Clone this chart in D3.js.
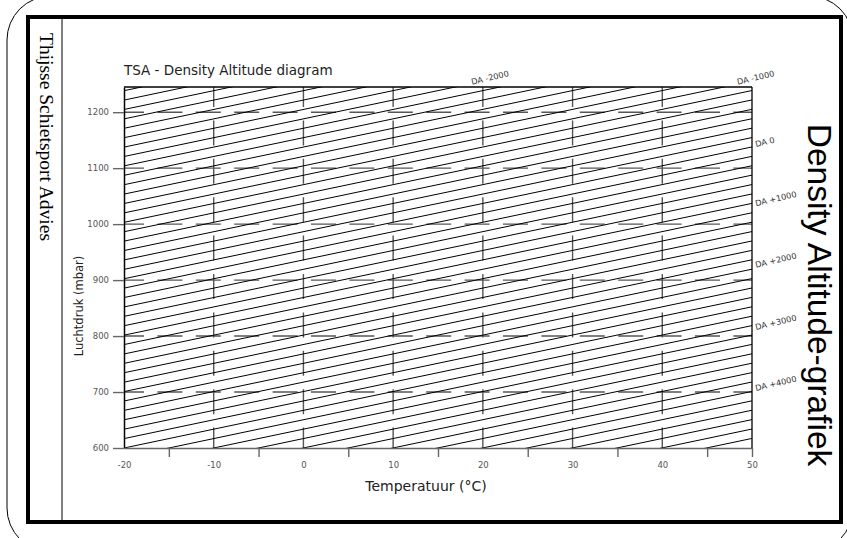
<!DOCTYPE html>
<html lang="nl">
<head>
<meta charset="UTF-8">
<title>Density Altitude-grafiek</title>
<style>
  body { margin: 0; background: #fff; }
  svg { display: block; }
  text { font-family: "DejaVu Sans", sans-serif; }
</style>
</head>
<body>
<svg id="chart" width="847" height="538"></svg>
<script src="https://cdn.jsdelivr.net/npm/d3@7"></script>
<script>
// temperature axis (°C)
const tempDomain = [-20, 50];
const tempLabels = [-20, -10, 0, 10, 20, 30, 40, 50];
const tempGrid = [-10, 0, 10, 20, 30, 40];
const tempMinor = [-15, -5, 5, 15, 25, 35, 45, 50];

// pressure axis (mbar)
const presDomain = [600, 1245];
const presTicks = [600, 700, 800, 900, 1000, 1100, 1200];
const presGrid = [700, 800, 900, 1000, 1100, 1200];

// density altitude lines: pressure (mbar) where each
// line meets -20 °C and where it meets 50 °C
const lineAtMinus20 = [381.6, 398.4, 415.2, 432.0, 448.8, 465.6, 482.4, 499.2,
  516.0, 532.8, 549.6, 566.4, 583.2, 600.0, 616.8, 633.6, 650.4, 667.2, 684.0,
  700.8, 717.6, 734.4, 751.2, 768.0, 784.8, 801.6, 818.4, 835.2, 852.0, 868.8,
  885.6, 902.4, 919.2, 936.0, 952.8, 969.6, 986.4, 1003.2, 1020.0, 1036.8,
  1053.6, 1070.4, 1087.2, 1104.0, 1120.8, 1137.6, 1154.4, 1171.2, 1188.0,
  1204.8, 1221.6, 1238.4];
const lineAt50 = [617.1, 633.9, 650.7, 667.5, 684.3, 701.1, 717.9, 734.7,
  751.5, 768.3, 785.1, 801.9, 818.7, 835.5, 852.3, 869.1, 885.9, 902.7, 919.5,
  936.3, 953.1, 969.9, 986.7, 1003.5, 1020.3, 1037.1, 1053.9, 1070.7, 1087.5,
  1104.3, 1121.1, 1137.9, 1154.7, 1171.5, 1188.3, 1205.1, 1221.9, 1238.7,
  1255.5, 1272.3, 1289.1, 1305.9, 1322.7, 1339.5, 1356.3, 1373.1, 1389.9,
  1406.7, 1423.5, 1440.3, 1457.1, 1473.9];

// density altitude labels and where they sit (temperature, pressure)
const daLabels = ["DA -2000", "DA -1000", "DA 0", "DA +1000", "DA +2000", "DA +3000", "DA +4000"];
const daLabelTemp = [18.8, 48.4, 50.45, 50.45, 50.45, 50.45, 50.45];
const daLabelPres = [1249, 1249, 1138, 1032, 922, 811, 702];

const svg = d3.select("#chart");

const x = d3.scaleLinear().domain(tempDomain).range([124, 752]);
const y = d3.scaleLinear().domain(presDomain).range([448, 87]);

// plain numbers with a normal hyphen for negatives
const plain = d => String(d);

// outer rounded frame and thick inner border
svg.append("rect")
    .attr("x", 7).attr("y", -4)
    .attr("width", 846).attr("height", 556)
    .attr("rx", 44).attr("ry", 44)
    .attr("fill", "none").attr("stroke", "#000").attr("stroke-width", 1);

svg.append("rect")
    .attr("x", 28).attr("y", 17)
    .attr("width", 813).attr("height", 505)
    .attr("fill", "none").attr("stroke", "#000").attr("stroke-width", 4);

svg.append("line")
    .attr("x1", 62).attr("x2", 62)
    .attr("y1", 19).attr("y2", 520)
    .attr("stroke", "#000").attr("stroke-width", 1);

svg.append("text")
    .attr("transform", "translate(40,33) rotate(90)")
    .style("font-family", "'Liberation Serif', 'Times New Roman', serif")
    .style("font-size", "19.5px")
    .attr("fill", "#000")
    .text("Thijsse Schietsport Advies");

svg.append("text")
    .attr("transform", "translate(808,295) rotate(90)")
    .attr("text-anchor", "middle")
    .style("font-family", "'Liberation Sans', Arial, sans-serif")
    .style("font-size", "33.5px")
    .style("font-weight", "300")
    .attr("fill", "#000")
    .text("Density Altitude-grafiek");

// clip for the plot area
svg.append("clipPath").attr("id", "plotClip")
  .append("rect")
    .attr("x", x(tempDomain[0])).attr("y", y(presDomain[1]))
    .attr("width", x(tempDomain[1]) - x(tempDomain[0]))
    .attr("height", y(presDomain[0]) - y(presDomain[1]));

const plot = svg.append("g").attr("clip-path", "url(#plotClip)");

// dashed grid
plot.selectAll(".vgrid")
    .data(tempGrid)
    .enter()
    .append("line")
    .attr("class", "vgrid")
    .attr("x1", d => x(d)).attr("x2", d => x(d))
    .attr("y1", y(presDomain[1])).attr("y2", y(presDomain[0]))
    .attr("stroke", "#555").attr("stroke-width", 1.4)
    .attr("stroke-dasharray", "25,13.4").attr("stroke-dashoffset", 5);

plot.selectAll(".hgrid")
    .data(presGrid)
    .enter()
    .append("line")
    .attr("class", "hgrid")
    .attr("x1", x(tempDomain[0])).attr("x2", x(tempDomain[1]))
    .attr("y1", d => y(d)).attr("y2", d => y(d))
    .attr("stroke", "#555").attr("stroke-width", 1.4)
    .attr("stroke-dasharray", "25,13.4").attr("stroke-dashoffset", 5);

// density altitude lines
plot.selectAll(".da")
    .data(lineAtMinus20)
    .enter()
    .append("line")
    .attr("class", "da")
    .attr("x1", x(-20)).attr("y1", d => y(d))
    .attr("x2", x(50)).attr("y2", (d, i) => y(lineAt50[i]))
    .attr("stroke", "#000").attr("stroke-width", 1);

// axes
const yAxis = svg.append("g")
    .attr("transform", `translate(${x(tempDomain[0])},0)`)
    .call(d3.axisLeft(y).tickValues(presTicks).tickSize(11).tickSizeOuter(0)
        .tickPadding(4).tickFormat(plain));
yAxis.select(".domain").attr("stroke", "#000").attr("stroke-width", 1.5);
yAxis.selectAll(".tick line").attr("stroke", "#666").attr("stroke-width", 1.4);
yAxis.selectAll(".tick text").attr("fill", "#555").style("font-size", "8.5px");

const xMinor = svg.append("g")
    .attr("transform", `translate(0,${y(presDomain[0])})`)
    .call(d3.axisBottom(x).tickValues(tempMinor).tickSize(9).tickSizeOuter(0).tickFormat(""));
xMinor.select(".domain").attr("stroke", "#666").attr("stroke-width", 1.5);
xMinor.selectAll(".tick line").attr("stroke", "#666").attr("stroke-width", 1.4);

const xLabels = svg.append("g")
    .attr("transform", `translate(0,${y(presDomain[0])})`)
    .call(d3.axisBottom(x).tickValues(tempLabels).tickSize(0).tickPadding(14).tickFormat(plain));
xLabels.select(".domain").remove();
xLabels.selectAll(".tick text").attr("fill", "#555").style("font-size", "8.5px");

// top and right frame of the plot
svg.append("line")
    .attr("x1", x(tempDomain[0])).attr("x2", x(tempDomain[1]))
    .attr("y1", y(presDomain[1])).attr("y2", y(presDomain[1]))
    .attr("stroke", "#000").attr("stroke-width", 1.3);
svg.append("line")
    .attr("x1", x(tempDomain[1])).attr("x2", x(tempDomain[1]))
    .attr("y1", y(presDomain[1])).attr("y2", y(presDomain[0]))
    .attr("stroke", "#000").attr("stroke-width", 1.3);

// DA labels
svg.selectAll(".daLabel")
    .data(daLabels)
    .enter()
    .append("text")
    .attr("class", "daLabel")
    .attr("transform", (d, i) => `translate(${x(daLabelTemp[i])},${y(daLabelPres[i])}) rotate(-13)`)
    .attr("fill", "#333")
    .style("font-size", "8.2px")
    .text(d => d);

// titles
svg.append("text")
    .attr("x", 124).attr("y", 75)
    .attr("fill", "#222")
    .style("font-size", "13.5px")
    .text("TSA - Density Altitude diagram");

svg.append("text")
    .attr("x", 426).attr("y", 491)
    .attr("text-anchor", "middle")
    .attr("fill", "#222")
    .style("font-size", "14px")
    .text("Temperatuur (°C)");

svg.append("text")
    .attr("transform", "translate(83,306) rotate(-90)")
    .attr("text-anchor", "middle")
    .attr("fill", "#222")
    .style("font-size", "11.5px")
    .text("Luchtdruk (mbar)");
</script>
</body>
</html>
